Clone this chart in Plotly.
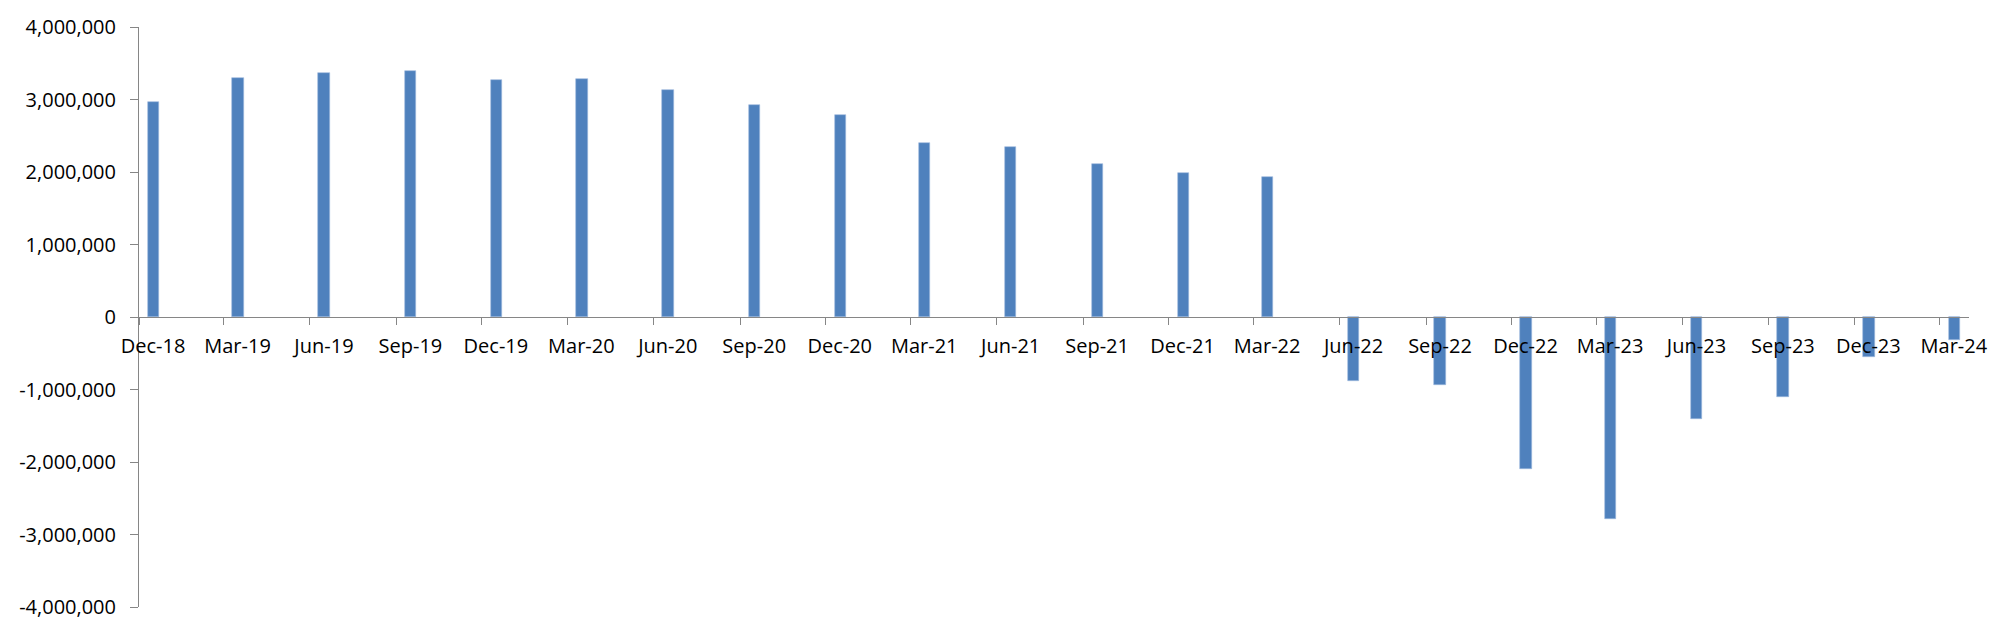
import plotly.graph_objects as go

# Quarter-end months (first day of month; bars are centred in the month)
dates = ["2018-12-01", "2019-03-01", "2019-06-01", "2019-09-01", "2019-12-01",
         "2020-03-01", "2020-06-01", "2020-09-01", "2020-12-01", "2021-03-01",
         "2021-06-01", "2021-09-01", "2021-12-01", "2022-03-01", "2022-06-01",
         "2022-09-01", "2022-12-01", "2023-03-01", "2023-06-01", "2023-09-01",
         "2023-12-01", "2024-03-01"]

values = [2960000, 3300000, 3366000, 3397000, 3270000,
          3280000, 3130000, 2930000, 2790000, 2400000,
          2340000, 2110000, 1990000, 1935000, -880000,
          -940000, -2090000, -2790000, -1410000, -1110000,
          -550000, -320000]

y_tick_values = [-4000000, -3000000, -2000000, -1000000, 0,
                 1000000, 2000000, 3000000, 4000000]
y_tick_labels = ["-4,000,000", "-3,000,000", "-2,000,000", "-1,000,000", "0",
                 "1,000,000", "2,000,000", "3,000,000", "4,000,000"]

x_range = ["2018-12-01", "2024-04-01"]

BAR_COLOR = "#4F81BD"
AXIS_COLOR = "#868686"
FONT = dict(family="Open Sans, Calibri, sans-serif", size=20, color="#000000")

fig = go.Figure(
    go.Bar(
        x=dates,
        y=values,
        xperiod="M1",
        xperiodalignment="middle",
        width=12 * 86400000,
        marker=dict(color=BAR_COLOR, line=dict(color="#9DB9DD", width=0.6)),
    )
)

fig.update_layout(
    width=2000,
    height=634,
    autosize=False,
    margin=dict(l=139, r=27, t=27, b=27),
    paper_bgcolor="white",
    plot_bgcolor="white",
    font=FONT,
    showlegend=False,
    bargap=0,
    xaxis=dict(
        type="date",
        range=x_range,
        tick0="2018-12-01",
        dtick="M3",
        tickformat="%b-%y",
        ticks="outside",
        ticklen=7,
        tickcolor=AXIS_COLOR,
        tickwidth=1,
        showline=True,
        linecolor=AXIS_COLOR,
        linewidth=1,
        showgrid=False,
        zeroline=False,
        anchor="free",
        position=0.5,
        ticklabelshift=14,
        ticklabelstandoff=4,
        tickfont=FONT,
    ),
    yaxis=dict(
        range=[-4000000, 4000000],
        tickvals=y_tick_values,
        ticktext=y_tick_labels,
        ticks="outside",
        ticklen=8,
        tickcolor=AXIS_COLOR,
        tickwidth=1,
        showline=True,
        linecolor=AXIS_COLOR,
        linewidth=1,
        showgrid=False,
        zeroline=False,
        ticklabelstandoff=10,
        tickfont=FONT,
    ),
)

fig.write_html("out.html", config={"displayModeBar": False},
               post_script="document.body.style.margin='0';")
